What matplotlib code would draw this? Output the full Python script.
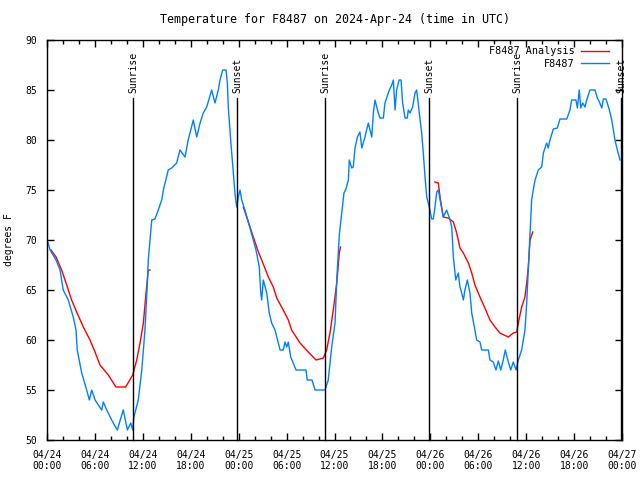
import numpy as np
import matplotlib
matplotlib.use("Agg")
import matplotlib.pyplot as plt
import matplotlib.dates as mdates
from matplotlib.ticker import MultipleLocator

start = np.datetime64("2024-04-24T00:00")

# station observations: hours after 04/24 00:00 UTC, degrees F
obs_hours = [
    0.04, 0.38, 1.13, 1.63, 2.04, 2.67, 3.29, 3.63, 3.79, 4.35, 4.97, 5.30, 5.60,
    6.01, 6.85, 7.05, 7.48, 8.10, 8.80, 9.55, 10.06, 10.48, 10.73, 10.89, 11.43,
    11.86, 12.27, 12.56, 12.68, 13.11, 13.52, 13.94, 14.36, 14.56, 15.19, 15.61,
    16.24, 16.65, 17.28, 17.69, 18.32, 18.75, 19.16, 19.57, 20.00, 20.62, 21.04,
    21.45, 21.66, 22.00, 22.41, 22.58, 22.70, 23.00, 23.33, 23.54, 23.75, 23.95,
    24.17, 24.38, 24.79, 25.42, 25.83, 26.17, 26.58, 26.76, 26.88, 27.08, 27.51,
    27.84, 28.14, 28.55, 28.96, 29.18, 29.59, 29.80, 30.02, 30.22, 30.52, 30.84,
    31.18, 32.43, 32.59, 33.18, 33.56, 34.18, 34.81, 35.22, 35.65, 36.06, 36.28,
    36.60, 36.77, 37.03, 37.19, 37.44, 37.73, 37.85, 38.15, 38.35, 38.57, 38.86,
    39.19, 39.41, 39.82, 40.23, 40.66, 40.86, 41.07, 41.49, 41.70, 42.11, 42.32,
    42.54, 42.86, 43.16, 43.36, 43.58, 43.79, 44.08, 44.33, 44.54, 44.83, 45.12,
    45.24, 45.45, 45.79, 46.08, 46.29, 46.49, 46.71, 46.92, 47.12, 47.33, 47.55,
    47.87, 48.17, 48.37, 48.59, 48.80, 49.00, 49.30, 49.62, 50.05, 50.46, 50.68,
    50.88, 51.18, 51.50, 51.72, 51.93, 52.13, 52.34, 52.63, 52.97, 53.18, 53.59,
    53.80, 54.22, 54.43, 55.26, 55.47, 55.89, 56.22, 56.51, 56.81, 57.14, 57.39,
    57.76, 58.06, 58.39, 58.73, 59.02, 59.44, 59.85, 60.07, 60.27, 60.48, 60.69,
    60.89, 61.11, 61.52, 61.95, 62.15, 62.57, 62.77, 62.99, 63.40, 63.90, 64.24,
    65.08, 65.49, 65.70, 66.24, 66.41, 66.65, 66.83, 67.08, 67.37, 67.58, 67.99,
    68.62, 68.91, 69.16, 69.46, 69.66, 70.00, 70.41, 70.71, 71.12, 71.41, 71.75,
]
obs_temp = [
    70, 69, 68, 67, 65, 64, 62.3, 61, 59, 56.7, 55, 54, 55,
    54, 53, 53.8, 53, 52, 51, 53, 51, 51.7, 51, 52.3, 54,
    57, 61, 65.7, 68, 72, 72.1, 73, 74, 75, 77, 77.2,
    77.7, 79, 78.3, 80, 82, 80.3, 81.7, 82.7, 83.3, 85, 83.7,
    85, 86, 87, 87, 85.7, 83.3, 80, 76.7, 74.7, 73.3, 74.3,
    75, 74, 73, 71.2, 70, 69, 67.3, 64.7, 64, 66, 64.7,
    62.7, 61.7, 61, 59.7, 59, 59, 59.8, 59.3, 59.8, 58.3, 57.7,
    57, 57, 56, 56, 55, 55, 55, 56, 59.3, 61.7, 66,
    70.5, 71.7, 73.7, 74.7, 75.1, 76, 78, 77.2, 77.3, 79.2, 80.3,
    80.8, 79.2, 80.3, 81.7, 80.3, 82.7, 84, 82.7, 82.2, 82.2, 83.7,
    84.2, 85, 85.5, 86, 83, 85, 86, 86, 83.7, 82.2, 82.2,
    83, 82.7, 83.3, 84.7, 85, 83.7, 82, 80.7, 78.7, 76.3, 74.3,
    73.3, 72.1, 72.1, 73.3, 74.8, 75, 73.7, 72.3, 73, 72, 71.3,
    68.3, 66, 66.7, 65.3, 64.7, 64, 65, 66, 64.7, 62.7, 61,
    60, 59.8, 59, 59, 58, 57.8, 57, 57.9, 57, 58, 59,
    57.8, 57, 57.8, 57, 58, 59, 61, 63.7, 67, 70.5, 74,
    75, 76, 77, 77.3, 78.7, 79.7, 79.2, 80, 81.1, 81.2, 82.1,
    82.1, 83, 84, 84, 83.2, 85, 83.2, 83.7, 83.3, 84, 85,
    85, 84.2, 83.8, 83.2, 84.1, 84.1, 83, 82, 80, 79, 78,
]

# analysis runs (three separate windows)
ana1_hours = [0.50, 1.13, 1.84, 2.47, 3.09, 3.72, 4.55, 5.38, 6.01, 6.64, 7.68,
              8.64, 9.85, 10.73, 11.23, 11.65, 12.06, 12.40, 12.68, 12.90]
ana1_temp = [69, 68.3, 67, 65.5, 64, 62.8, 61.3, 60, 58.8, 57.5, 56.5,
             55.3, 55.3, 56.5, 58, 59.7, 61.7, 64.7, 67, 67]
ana2_hours = [24.58, 25.42, 26.46, 26.88, 27.71, 28.34, 28.76, 29.59, 30.22, 30.64,
              31.68, 32.72, 33.68, 34.60, 35.02, 35.44, 35.85, 36.28, 36.60, 36.75]
ana2_temp = [73.3, 71.3, 68.8, 68, 66.3, 65.3, 64.2, 63, 62, 61,
             59.7, 58.8, 58, 58.2, 59, 60.7, 63, 65.7, 68.7, 69.3]
ana3_hours = [48.59, 49.00, 49.21, 49.42, 49.62, 50.25, 50.88, 51.30, 51.72, 52.13,
              52.76, 53.18, 53.59, 54.22, 54.84, 55.47, 56.10, 56.72, 57.76, 58.39,
              58.82, 59.02, 59.44, 59.85, 60.07, 60.27, 60.48, 60.82]
ana3_temp = [75.8, 75.7, 74.3, 73.3, 72.3, 72.2, 71.8, 70.7, 69.2, 68.7,
             67.7, 66.7, 65.5, 64.3, 63.2, 62, 61.3, 60.7, 60.3, 60.7,
             60.8, 61.7, 63.3, 64.3, 65.7, 67.3, 70, 70.8]

sun_hours = [10.77, 23.79, 34.81, 47.83, 58.85, 71.87]
sun_labels = ["Sunrise", "Sunset", "Sunrise", "Sunset", "Sunrise", "Sunset"]


def to_time(hours):
    return start + (np.array(hours) * 60).round().astype("timedelta64[m]")


plt.rc("font", family="DejaVu Sans Mono", size=7)
fig = plt.figure(figsize=(6.4, 4.8), dpi=100)
ax = fig.add_axes([47 / 640, 40 / 480, 575 / 640, 400 / 480])

red = "#ff0000"
blue = "#0080ff"

ax.plot(to_time(ana1_hours), ana1_temp, color=red, lw=1, label="F8487 Analysis")
ax.plot(to_time(ana2_hours), ana2_temp, color=red, lw=1)
ax.plot(to_time(ana3_hours), ana3_temp, color=red, lw=1)
ax.plot(to_time(obs_hours), obs_temp, color=blue, lw=1, label="F8487")

for h, lab in zip(sun_hours, sun_labels):
    t = to_time([h])[0]
    ax.plot([t, t], [50, 84.2], color="black", lw=1, clip_on=False)
    ax.text(t, 84.7, lab, rotation=90, ha="center", va="bottom", clip_on=False)

ax.set_xlim(start, start + np.timedelta64(72, "h"))
ax.set_ylim(50, 90)
ax.xaxis.set_major_locator(mdates.HourLocator(byhour=[0, 6, 12, 18]))
ax.xaxis.set_minor_locator(mdates.HourLocator(byhour=range(0, 24, 2)))
ax.xaxis.set_major_formatter(mdates.DateFormatter("%m/%d\n%H:%M"))
ax.yaxis.set_major_locator(MultipleLocator(5))
ax.tick_params(which="both", direction="in", top=True, right=True)
ax.tick_params(which="major", length=5, width=1, pad=7)
ax.tick_params(which="minor", length=3, width=1)
for s in ax.spines.values():
    s.set_linewidth(1)

ax.set_ylabel("degrees F", labelpad=8)
ax.set_title("Temperature for F8487 on 2024-Apr-24 (time in UTC)", pad=12)

ax.legend(loc="upper right", bbox_to_anchor=(0.985, 0.995), frameon=False,
          markerfirst=False, handlelength=2.8, labelspacing=0.25,
          borderaxespad=0, handletextpad=0.6, fontsize=7.3)

fig.savefig("out.png", dpi=100)
